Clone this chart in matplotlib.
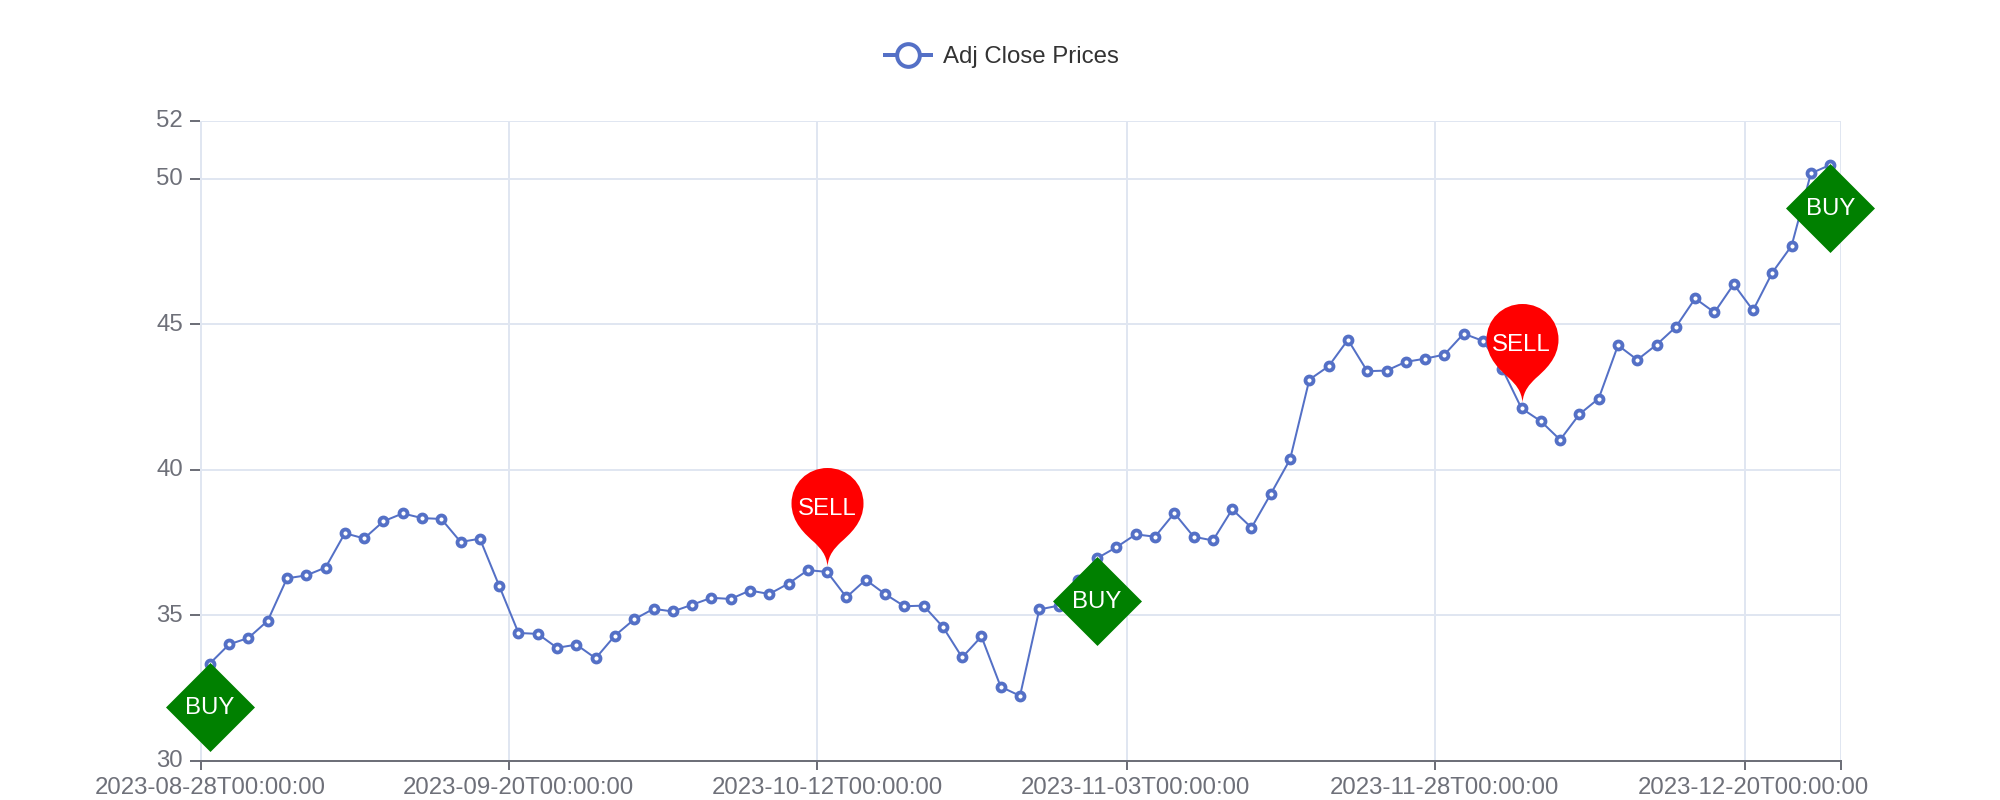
#!/usr/bin/env python3
import matplotlib
matplotlib.use("Agg")
import matplotlib.pyplot as plt
import numpy as np
from matplotlib.lines import Line2D
from matplotlib.path import Path
from matplotlib.transforms import ScaledTranslation

prices = [33.34, 34.00, 34.22, 34.81, 36.27, 36.37, 36.64, 37.82, 37.64, 38.23,
          38.50, 38.34, 38.31, 37.52, 37.63, 36.01, 34.39, 34.36, 33.88, 33.99,
          33.52, 34.30, 34.86, 35.22, 35.13, 35.36, 35.60, 35.56, 35.85, 35.73,
          36.09, 36.55, 36.49, 35.62, 36.22, 35.73, 35.31, 35.33, 34.60, 33.55,
          34.27, 32.54, 32.23, 35.20, 35.33, 36.21, 36.96, 37.34, 37.78, 37.70,
          38.51, 37.70, 37.57, 38.64, 38.01, 39.17, 40.36, 43.10, 43.56, 44.47,
          43.39, 43.41, 43.71, 43.82, 43.96, 44.68, 44.43, 43.47, 42.11, 41.67,
          41.03, 41.91, 42.45, 44.28, 43.78, 44.30, 44.91, 45.89, 45.41, 46.38,
          45.48, 46.78, 47.70, 50.19, 50.48]
date_labels = ["2023-08-28T00:00:00", "2023-09-20T00:00:00", "2023-10-12T00:00:00",
               "2023-11-03T00:00:00", "2023-11-28T00:00:00", "2023-12-20T00:00:00"]
date_index = [0, 16, 32, 48, 64, 80]
y_ticks = [30, 35, 40, 45, 50, 52]
buy_index = [0, 46, 84]
sell_index = [32, 68]

BLUE = "#5470c6"
GRID = "#e0e6f1"
AXIS = "#6e7079"
PX = 0.72  # points per pixel at dpi 100

plt.rcParams["font.family"] = ["Liberation Sans", "DejaVu Sans"]
plt.rcParams["font.size"] = 24 * PX

# marks are anchored on the data point, sizes are in pixels
diamond = Path([(0, 1.5), (-44.5, -43), (0, -87.5), (44.5, -43), (0, 1.5)], closed=True)
pin_verts = [(0, 6),
             (1, 18), (7, 24), (13, 30),
             (22, 38), (36, 50), (36, 69),
             (36, 89), (20, 104.5), (0, 104.5),
             (-20, 104.5), (-36, 89), (-36, 69),
             (-36, 50), (-22, 38), (-13, 30),
             (-7, 24), (-1, 18), (0, 6),
             (0, 6)]
pin_codes = [Path.MOVETO] + [Path.CURVE4] * 18 + [Path.CLOSEPOLY]
pin = Path(pin_verts, pin_codes)

fig = plt.figure(figsize=(20, 8), dpi=100)
ax = fig.add_axes([200.2 / 2000, 1 - 760.7 / 800, 1640.6 / 2000, 640 / 800])

x = np.arange(len(prices))
y = np.array(prices)
ax.plot(x, y, color=BLUE, lw=2 * PX, marker="o", ms=8 * PX, mfc="white",
        mec=BLUE, mew=3.8 * PX, zorder=3)

ax.plot(x[buy_index], y[buy_index], ls="none", marker=diamond,
        ms=2 * 87.5 * PX, mfc="green", mew=0, clip_on=False, zorder=4)
ax.plot(x[sell_index], y[sell_index], ls="none", marker=pin,
        ms=2 * 104.5 * PX, mfc="red", mew=0, clip_on=False, zorder=4)

for i in buy_index:
    ax.annotate("BUY", (i, prices[i]), xytext=(0, -44 * PX), textcoords="offset points",
                ha="center", va="center", color="white", zorder=5, annotation_clip=False)
for i in sell_index:
    ax.annotate("SELL", (i, prices[i]), xytext=(0, 63 * PX), textcoords="offset points",
                ha="center", va="center", color="white", zorder=5, annotation_clip=False)

ax.set_xlim(-0.5, 84.55)
ax.set_ylim(30, 52)

# band axis: ticks on the band edges (the original snaps them to whole pixels), labels on the centres
ax.set_xticks([-0.46, 15.50, 31.47, 47.54, 63.51, 79.58, 84.55])
ax.set_xticklabels([])
ax.set_xticks(date_index, date_labels, minor=True)
ax.tick_params(axis="x", which="major", length=9 * PX, width=2 * PX, color=AXIS)
ax.tick_params(axis="x", which="minor", length=0, pad=16.5 * PX, labelcolor=AXIS)
ax.set_yticks(y_ticks)
ax.tick_params(axis="y", length=10 * PX, width=2 * PX, color=AXIS, pad=7 * PX, labelcolor=AXIS)
lift = ScaledTranslation(0, 2 / 100, fig.dpi_scale_trans)
for label in ax.get_yticklabels():
    label.set_transform(label.get_transform() + lift)

ax.grid(True, which="major", color=GRID, lw=2 * PX)
ax.set_axisbelow(True)
for side in ["top", "left", "right"]:
    ax.spines[side].set_visible(False)
ax.spines["bottom"].set_color(AXIS)
ax.spines["bottom"].set_linewidth(2 * PX)

handle = Line2D([], [], color=BLUE, lw=4 * PX, solid_capstyle="butt", marker="o", ms=22.7 * PX,
                mfc="white", mec=BLUE, mew=4 * PX)
fig.legend([handle], ["Adj Close Prices"], loc="center", bbox_to_anchor=(1001 / 2000, 1 - 57.5 / 800),
           frameon=False, handlelength=50 / 24, handletextpad=10 / 24, labelcolor="#333333")

fig.savefig("out.png", dpi=100)
